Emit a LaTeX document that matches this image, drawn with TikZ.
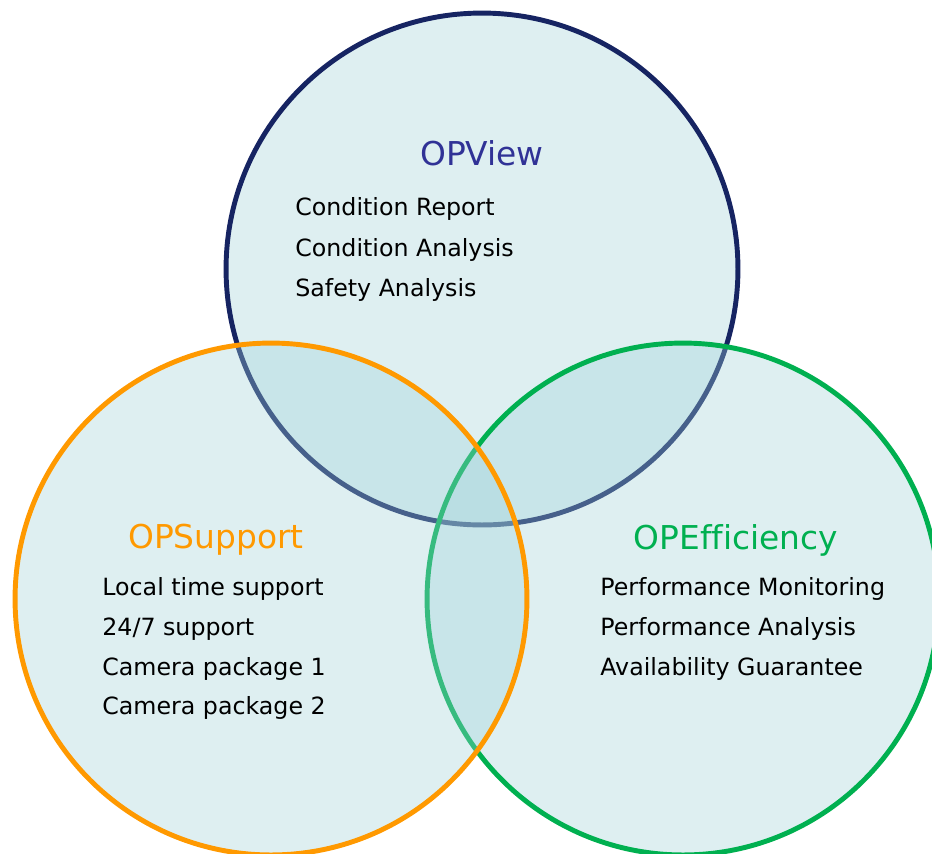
\documentclass[tikz,border=0pt]{standalone}
\usepackage{fontspec}
\setsansfont[Ligatures=NoCommon]{DejaVu Sans}
\usetikzlibrary{positioning}
\definecolor{viewcolor}{RGB}{22,36,98}
\definecolor{supportcolor}{RGB}{255,153,0}
\definecolor{effcolor}{RGB}{0,176,80}
\definecolor{viewtitle}{RGB}{48,50,150}
\definecolor{ringfill}{RGB}{160,210,216}

\begin{document}
\begin{tikzpicture}[%
    x=0.02cm, y=-0.02cm,        % work in reference pixels
    node distance=8mm,          % baseline to baseline in the lists
    on grid,
    ]
\tikzset{
  ring/.style={circle, draw=#1, line width=2.8pt, fill=ringfill, fill opacity=0.35,
               minimum size=10.24cm, inner sep=0pt, outer sep=0pt},
  headline/.style={font=\sffamily\fontsize{18.7}{22}\selectfont, text=#1, anchor=base, inner sep=0pt},
  listitem/.style={font=\sffamily\fontsize{13.5}{16}\selectfont, anchor=base west, inner sep=0pt},
  nextline/.style={listitem, below=of #1.base west, anchor=base west},
}
\useasboundingbox (0,0) rectangle (932,853);

% the three rings, drawn in this order
\node [ring=viewcolor] (view) at (482,269) {};
\node [ring=effcolor] (efficiency) at (683,599) {};
\node [ring=supportcolor] (support) at (271,599) {};

% OPView
\begin{scope}[node distance=8.2mm]
\node [headline=viewtitle] (viewtitle) at (482,165) {OPView};
\node [listitem] (v1) at (295,215) {Condition Report};
\node [nextline=v1] (v2) {Condition Analysis};
\node [nextline=v2] (v3) {Safety Analysis};
\end{scope}

% OPSupport
\node [headline=supportcolor] (supporttitle) at (216,548) {OPSupport};
\node [listitem] (s1) at (102,595) {Local time support};
\node [nextline=s1] (s2) {24/7 support};
\node [nextline=s2] (s3) {Camera package 1};
\node [nextline=s3] (s4) {Camera package 2};

% OPEfficiency
\node [headline=effcolor] (efftitle) at (736,549) {OPEfficiency};
\node [listitem] (e1) at (600,595) {Performance Monitoring};
\node [nextline=e1] (e2) {Performance Analysis};
\node [nextline=e2] (e3) {Availability Guarantee};

\end{tikzpicture}
\end{document}
